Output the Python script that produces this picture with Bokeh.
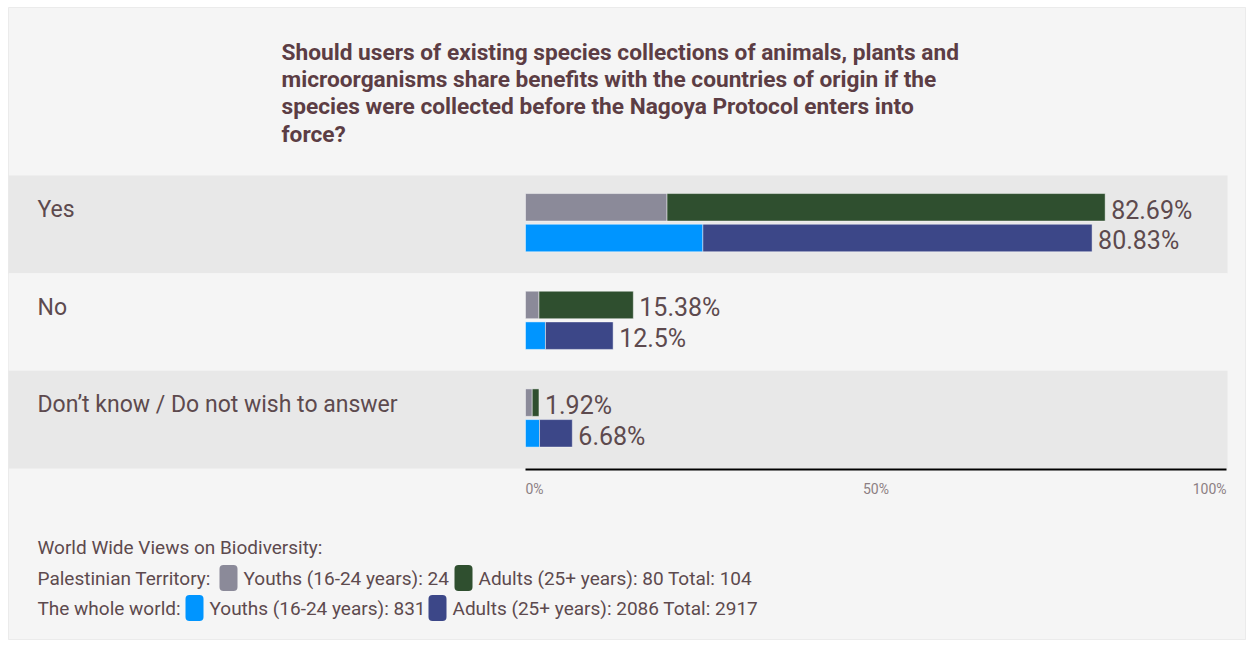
from bokeh.plotting import figure
from bokeh.models import Range1d, ColumnDataSource
from bokeh.embed import file_html
from bokeh.resources import INLINE
from bokeh.core.properties import value

# ---- data -------------------------------------------------------------
TITLE_LINES = [
    "Should users of existing species collections of animals, plants and",
    "microorganisms share benefits with the countries of origin if the",
    "species were collected before the Nagoya Protocol enters into",
    "force?",
]
CATEGORIES = ["Yes", "No", "Don\u2019t know / Do not wish to answer"]

# share of all respondents (percent): youth part and total per answer
PT_YOUTHS = [20.19, 1.92, 0.96]
PT_TOTAL = [82.69, 15.38, 1.92]
WORLD_YOUTHS = [25.3, 2.85, 2.0]
WORLD_TOTAL = [80.83, 12.5, 6.68]

TICKS = [0, 50, 100]
TICK_LABELS = ["0%", "50%", "100%"]

LEGEND_TITLE = "World Wide Views on Biodiversity:"
GROUPS = ["Palestinian Territory:", "The whole world:"]
YOUTH_COUNTS = [24, 831]
ADULT_COUNTS = [80, 2086]
TOTAL_COUNTS = [104, 2917]

# ---- styling ------------------------------------------------------------
PT_YOUTH_COLOR = "#8b8a99"
PT_ADULT_COLOR = "#2f4f2f"
WORLD_YOUTH_COLOR = "#0095ff"
WORLD_ADULT_COLOR = "#3c4788"
TEXT_COLOR = "#5d4a4e"
TITLE_COLOR = "#5c3d44"
TICK_COLOR = "#8c7f83"
BAND_DARK = "#e8e8e8"
PANEL_BG = "#f5f5f5"
FONT = "Roboto"

# ---- layout helpers (page pixels -> data units) --------------------------
W, H = 1238, 633
OX, OY = 8, 7
ZERO_PX, FULL_PX = 525, 1226
PX_PER_PCT = (FULL_PX - ZERO_PX) / 100.0
ROWS_TOP, ROWS_BOTTOM = 175, 468
ROW_PX = (ROWS_BOTTOM - ROWS_TOP) / len(CATEGORIES)


def gx(px):
    return (px - ZERO_PX) / PX_PER_PCT


def gy(py):
    return (py - ROWS_TOP) / ROW_PX


PT_OFF = gy(ROWS_TOP + 31.8)
WORLD_OFF = gy(ROWS_TOP + 62.5)
BAR_H = 27.5 / ROW_PX

p = figure(
    width=W, height=H,
    x_range=Range1d(gx(OX), gx(OX + W)),
    y_range=Range1d(gy(OY + H), gy(OY)),
    output_backend="svg", toolbar_location=None,
    min_border=0, margin=(OY, 8, 5, OX),
    background_fill_color=PANEL_BG, border_fill_color=PANEL_BG,
    outline_line_color="#ebebeb",
)
p.axis.visible = False
p.grid.visible = False

# alternating row bands
rows = list(range(len(CATEGORIES)))
p.quad(left=gx(OX), right=gx(1227),
       top=[r for r in rows], bottom=[r + 1 for r in rows],
       fill_color=[BAND_DARK if r % 2 == 0 else PANEL_BG for r in rows],
       line_color=None)

# stacked bars: youth segment then adult segment
src = ColumnDataSource(dict(
    pt_y=[r + PT_OFF for r in rows],
    w_y=[r + WORLD_OFF for r in rows],
    pt_youth=PT_YOUTHS, pt_total=PT_TOTAL,
    w_youth=WORLD_YOUTHS, w_total=WORLD_TOTAL,
    pt_label=[f"{v:g}%" for v in PT_TOTAL],
    w_label=[f"{v:g}%" for v in WORLD_TOTAL],
    zero=[0] * len(rows),
))
bar_line = dict(line_color="#ffffff", line_alpha=0.45, line_width=1)
p.hbar(y="pt_y", left="zero", right="pt_youth", height=BAR_H, source=src,
       fill_color=PT_YOUTH_COLOR, **bar_line)
p.hbar(y="pt_y", left="pt_youth", right="pt_total", height=BAR_H, source=src,
       fill_color=PT_ADULT_COLOR, **bar_line)
p.hbar(y="w_y", left="zero", right="w_youth", height=BAR_H, source=src,
       fill_color=WORLD_YOUTH_COLOR, **bar_line)
p.hbar(y="w_y", left="w_youth", right="w_total", height=BAR_H, source=src,
       fill_color=WORLD_ADULT_COLOR, **bar_line)

# value labels at bar ends
val_style = dict(text_font=value(FONT), text_font_size="25px",
                 text_color=TEXT_COLOR, text_baseline="middle",
                 text_align="left", x_offset=6)
src.data["pt_ly"] = [r + 34.7 / ROW_PX for r in rows]
src.data["w_ly"] = [r + 65.3 / ROW_PX for r in rows]
p.text(x="pt_total", y="pt_ly", text="pt_label", source=src, **val_style)
p.text(x="w_total", y="w_ly", text="w_label", source=src, **val_style)

# category labels
p.text(x=[gx(37)] * len(rows), y=[r + 34.0 / ROW_PX for r in rows],
       text=CATEGORIES, text_font=value(FONT), text_font_size="23px",
       text_color=TEXT_COLOR, text_baseline="middle", text_align="left")

# title
p.text(x=[gx(281)] * len(TITLE_LINES),
       y=[gy(51.5 + 27.4 * i) for i in range(len(TITLE_LINES))],
       text=TITLE_LINES, text_font=value(FONT), text_font_size="22.7px",
       text_font_style="bold", text_color=TITLE_COLOR,
       text_baseline="middle", text_align="left")

# axis baseline and tick labels
p.segment(x0=[TICKS[0]], x1=[TICKS[-1]], y0=[gy(469)], y1=[gy(469)],
          line_color="black", line_width=2)
p.text(x=TICKS, y=[gy(488)] * len(TICKS), text=TICK_LABELS,
       text_align=["left", "center", "right"],
       text_font=value(FONT), text_font_size="14px", text_color=TICK_COLOR,
       text_baseline="middle")

# legend
leg_style = dict(text_font=value(FONT), text_font_size="19px",
                 text_color=TEXT_COLOR, text_baseline="middle",
                 text_align="left")
p.text(x=[gx(37)], y=[gy(547)], text=[LEGEND_TITLE], **leg_style)

line_y = [577.5, 607.5]
swatch1_x = [219, 185]
swatch2_x = [454, 428]
youth_colors = [PT_YOUTH_COLOR, WORLD_YOUTH_COLOR]
adult_colors = [PT_ADULT_COLOR, WORLD_ADULT_COLOR]
for i, g in enumerate(GROUPS):
    cy = line_y[i]
    p.text(x=[gx(37)], y=[gy(cy)], text=[g], **leg_style)
    p.quad(left=[gx(swatch1_x[i]), gx(swatch2_x[i])],
           right=[gx(swatch1_x[i] + 18), gx(swatch2_x[i] + 18)],
           top=[gy(cy - 13)] * 2, bottom=[gy(cy + 13)] * 2,
           fill_color=[youth_colors[i], adult_colors[i]], line_color=None,
           border_radius=4)
    p.text(x=[gx(swatch1_x[i] + 24), gx(swatch2_x[i] + 24)], y=[gy(cy)] * 2,
           text=[f"Youths (16-24 years): {YOUTH_COUNTS[i]}",
                 f"Adults (25+ years): {ADULT_COUNTS[i]} Total: {TOTAL_COUNTS[i]}"],
           **leg_style)

open("out.html", "w").write(file_html(p, INLINE))
